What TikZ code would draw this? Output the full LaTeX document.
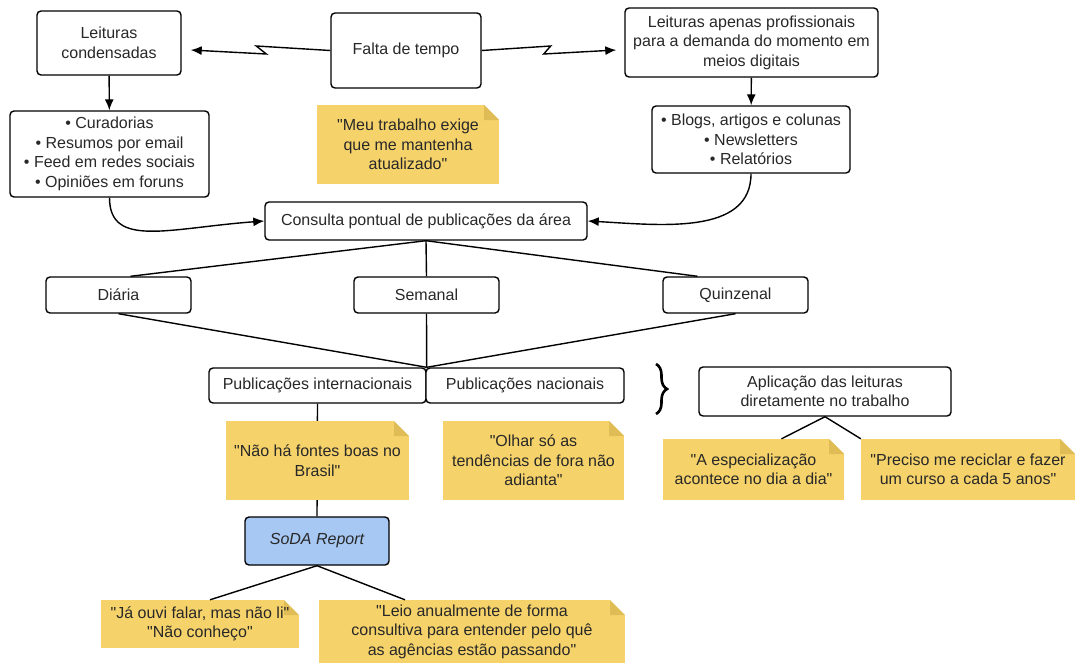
\documentclass[tikz,border=0pt]{standalone}
\usepackage{fontspec}
\setmainfont{Liberation Sans}[Ligatures=TeXOff]
\usetikzlibrary{calc, arrows.meta, decorations.pathreplacing}
\definecolor{notey}{RGB}{246,211,106}
\definecolor{notefold}{RGB}{224,188,86}
\definecolor{sodablue}{RGB}{166,200,242}
\definecolor{ink}{RGB}{40,40,40}

\begin{document}
\begin{tikzpicture}[x=1pt, y=-1pt, font={\fontsize{16}{19.5}\selectfont}, text=ink,
    >={Latex[length=11pt, width=9pt]},
    box/.style={draw=black, rounded corners=4pt, line width=1.4pt, fill=white, align=center, inner sep=0pt},
    note/.style={fill=notey, align=center, inner sep=0pt, path picture={
        \fill[white] ([xshift=-15pt]path picture bounding box.north east) -- (path picture bounding box.north east)
            -- ([yshift=-15pt]path picture bounding box.north east) -- cycle;
        \fill[notefold] ([xshift=-15pt]path picture bounding box.north east) -- ([yshift=-15pt]path picture bounding box.north east)
            -- ([xshift=-15pt,yshift=-15pt]path picture bounding box.north east) -- cycle;}},
    link/.style={line width=1.4pt}]
    \useasboundingbox (0,0) rectangle (1075,664);

    \node[box, minimum width=144pt, minimum height=64pt] (cond) at (109,43) {Leituras\\condensadas};
    \node[box, minimum width=150pt, minimum height=75pt] (falta) at (406,50.5) {Falta de tempo};
    \node[box, minimum width=253pt, minimum height=69pt] (prof) at (751.5,42.5) {Leituras apenas profissionais\\para a demanda do momento em\\meios digitais};

    \node[box, minimum width=199pt, minimum height=86pt] (cur) at (109.5,154) {• Curadorias\\• Resumos por email\\• Feed em redes sociais\\• Opiniões em foruns};
    \node[note, minimum width=182pt, minimum height=79pt] (meu) at (408,144.5) {"Meu trabalho exige\\que me mantenha\\atualizado"};
    \node[box, minimum width=198pt, minimum height=67pt] (blogs) at (751,139.5) {• Blogs, artigos e colunas\\• Newsletters\\• Relatórios};

    \node[box, minimum width=322pt, minimum height=38pt] (cons) at (426,221) {Consulta pontual de publicações da área};

    \node[box, minimum width=145pt, minimum height=36pt] (dia) at (118.5,295) {Diária};
    \node[box, minimum width=145pt, minimum height=36pt] (sem) at (426.5,295) {Semanal};
    \node[box, minimum width=145pt, minimum height=36pt] (quin) at (735.5,295) {Quinzenal};

    \node[box, minimum width=217pt, minimum height=35pt] (pubint) at (317.5,385.5) {Publicações internacionais};
    \node[box, minimum width=198pt, minimum height=35pt] (pubnac) at (525,385.5) {Publicações nacionais};
    \node[box, minimum width=252pt, minimum height=49pt] (apl) at (825,391.5) {Aplicação das leituras\\diretamente no trabalho};
    \node[box, fill=sodablue, minimum width=144pt, minimum height=48pt] (soda) at (317,541) {\itshape SoDA Report};

    \draw[link, ->] (falta.west) -- ++(-74,-4.5) -- ++(10,8) -- ($(cond.east)+(9,7)$);
    \draw[link, ->] (falta.east) -- ++(69,-4.5) -- ++(-7,8) -- ($(prof.west)+(-8,7.5)$);
    \draw[link, ->] (cond) -- (cur);
    \draw[link, ->] (prof) -- (blogs);
    \draw[link, ->] (cur.south) .. controls +(0,51) and +(-95,7) .. (cons.west);
    \draw[link, ->] (blogs.south) .. controls +(0,62) and +(72,4) .. (cons.east);

    \draw[link] (cons.south) -- ($(dia.north)+(12,0)$);
    \draw[link] (cons.south) -- (sem.north);
    \draw[link] (cons.south) -- ($(quin.north)+(-38,0)$);
    \draw[link] (dia.south) -- (pubint.north east);
    \draw[link] (sem.south) -- (pubint.north east);
    \draw[link] (quin.south) -- (pubint.north east);
    \draw[link] (pubint.south) -- (soda.north);

    \draw[decorate, decoration={brace, amplitude=11pt}, line width=2.6pt] (656,364) -- (656,414);

    \node[note, minimum width=183pt, minimum height=79pt] (naoha) at (317.5,460.5) {"Não há fontes boas no\\Brasil"};
    \node[note, minimum width=181pt, minimum height=79pt] (olhar) at (533.5,460.5) {"Olhar só as\\tendências de fora não\\adianta"};
    \node[note, minimum width=181pt, minimum height=61pt] (espec) at (753.5,469.5) {"A especialização\\acontece no dia a dia"};
    \node[note, minimum width=214pt, minimum height=61pt] (precis) at (968,469.5) {"Preciso me reciclar e fazer\\um curso a cada 5 anos"};
    \draw[link] (apl.south) -- ($(espec.north)+(28,0)$);
    \draw[link] (apl.south) -- (precis.north west);

    \node[note, minimum width=198pt, minimum height=48pt] (jaouvi) at (200,624) {"Já ouvi falar, mas não li"\\"Não conheço"};
    \node[note, minimum width=306pt, minimum height=63pt] (leio) at (472,631.5) {"Leio anualmente de forma\\consultiva para entender pelo quê\\as agências estão passando"};
    \draw[link] (soda.south) -- ($(jaouvi.north)+(10,0)$);
    \draw[link] (soda.south) -- ($(leio.north)+(-67,0)$);
\end{tikzpicture}
\end{document}
